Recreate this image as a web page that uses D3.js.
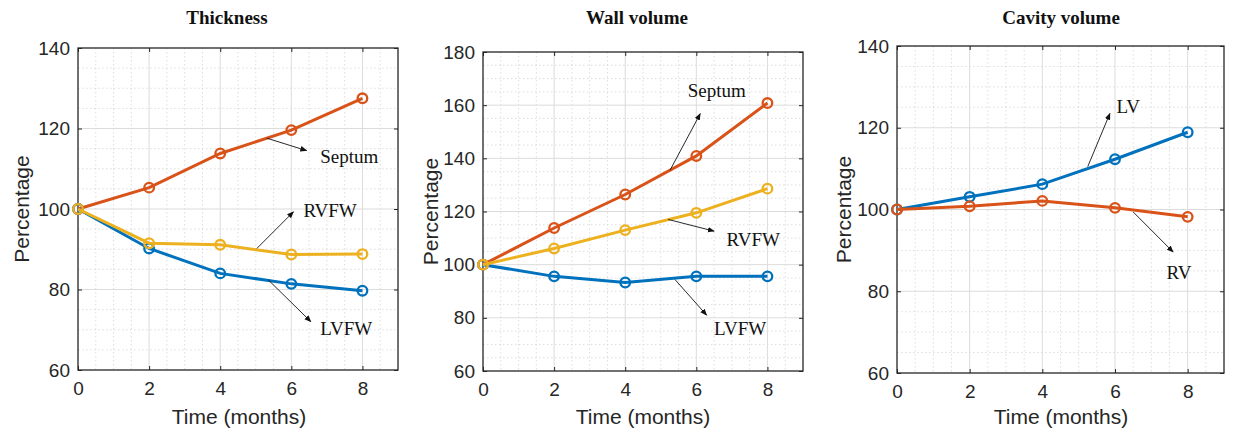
<!DOCTYPE html>
<html>
<head>
<meta charset="utf-8">
<script src="https://cdn.jsdelivr.net/npm/d3@7"></script>
<style>
  body { margin: 0; background: #fff; }
  svg { display: block; }
</style>
</head>
<body>
<div id="chart"></div>
<script>
// Data (percentage of baseline)
const months = [0, 2, 4, 6, 8];
const xTicks = [0, 2, 4, 6, 8];

const thickSeptum = [100, 105.3, 113.8, 119.6, 127.5];
const thickRVFW   = [100, 91.5, 91.1, 88.7, 88.8];
const thickLVFW   = [100, 90.2, 84.0, 81.4, 79.7];

const wallSeptum = [100, 113.8, 126.4, 140.9, 160.8];
const wallRVFW   = [100, 106.1, 113.0, 119.5, 128.6];
const wallLVFW   = [100, 95.6, 93.3, 95.6, 95.6];

const cavLV = [100, 103.1, 106.2, 112.3, 118.9];
const cavRV = [100, 100.8, 102.1, 100.4, 98.2];

const yTicksThick = [60, 80, 100, 120, 140];
const yTicksWall  = [60, 80, 100, 120, 140, 160, 180];
const yTicksCav   = [60, 80, 100, 120, 140];

// annotations in data units: [x0, y0, x1, y1, textX, textY, label]
const thickNotes = [
  [5.31, 117.6, 6.43, 114.5, 6.81, 113.2, "Septum"],
  [5.03, 90.2, 6.06, 99.3, 6.34, 99.6, "RVFW"],
  [5.35, 82.4, 6.55, 72.0, 6.81, 70.4, "LVFW"]
];
const wallNotes = [
  [5.26, 135.5, 6.11, 156.8, 5.76, 165.6, "Septum"],
  [5.21, 117.0, 6.5, 112.6, 6.85, 109.5, "RVFW"],
  [5.4, 94.4, 6.29, 81.0, 6.5, 76.0, "LVFW"]
];
const cavNotes = [
  [5.25, 110.5, 5.86, 123.5, 6.04, 125.3, "LV"],
  [6.5, 99.4, 7.6, 89.6, 7.42, 84.7, "RV"]
];

const BLUE = "#0072BD", RED = "#D95319", YELLOW = "#EDB120";
const AXIS = "#262626";

const svg = d3.select("#chart").append("svg")
  .attr("width", 1233).attr("height", 433);

svg.append("defs").append("marker")
  .attr("id", "arrow")
  .attr("viewBox", "0 0 10 10")
  .attr("refX", 9).attr("refY", 5)
  .attr("markerWidth", 7).attr("markerHeight", 7)
  .attr("markerUnits", "userSpaceOnUse")
  .attr("orient", "auto")
  .append("path")
  .attr("d", "M0,1 L10,5 L0,9 Z")
  .attr("fill", "#111");

function drawPanel(p) {
  const g = svg.append("g");
  const x = d3.scaleLinear().domain([0, 9]).range([p.left, p.right]);
  const y = d3.scaleLinear().domain(p.yDomain).range([p.bottom, p.top]);

  // minor grid (dotted)
  const xMinor = d3.range(0.5, 9, 0.5).filter(v => v % 2 !== 0);
  const yMinor = d3.range(p.yDomain[0] + 5, p.yDomain[1], 5).filter(v => v % 20 !== 0);
  g.selectAll(".mx").data(xMinor).join("line")
    .attr("x1", d => x(d)).attr("x2", d => x(d))
    .attr("y1", p.top).attr("y2", p.bottom)
    .attr("stroke", "#d4d4d4").attr("stroke-width", 0.8)
    .attr("stroke-dasharray", "1.5,2.5");
  g.selectAll(".my").data(yMinor).join("line")
    .attr("x1", p.left).attr("x2", p.right)
    .attr("y1", d => y(d)).attr("y2", d => y(d))
    .attr("stroke", "#d4d4d4").attr("stroke-width", 0.8)
    .attr("stroke-dasharray", "1.5,2.5");

  // major grid
  g.selectAll(".gx").data(xTicks.slice(1)).join("line")
    .attr("x1", d => x(d)).attr("x2", d => x(d))
    .attr("y1", p.top).attr("y2", p.bottom)
    .attr("stroke", "#dcdcdc").attr("stroke-width", 1);
  g.selectAll(".gy").data(p.yTicks.slice(1, -1)).join("line")
    .attr("x1", p.left).attr("x2", p.right)
    .attr("y1", d => y(d)).attr("y2", d => y(d))
    .attr("stroke", "#dcdcdc").attr("stroke-width", 1);

  // axes (inward ticks, box on)
  const fmt = d3.format("d");
  const styleAxis = sel => {
    sel.select(".domain").remove();
    sel.selectAll("line").attr("stroke", AXIS);
    sel.selectAll("text")
      .attr("fill", AXIS)
      .style("font-family", "Liberation Sans, Arial, sans-serif")
      .style("font-size", "19px");
  };
  g.append("g").attr("transform", `translate(0,${p.bottom})`)
    .call(d3.axisBottom(x).tickValues(xTicks).tickFormat(fmt).tickSizeInner(-4).tickSizeOuter(0).tickPadding(12))
    .call(styleAxis);
  g.append("g").attr("transform", `translate(0,${p.top})`)
    .call(d3.axisTop(x).tickValues(xTicks).tickFormat("").tickSizeInner(-4).tickSizeOuter(0))
    .call(styleAxis);
  g.append("g").attr("transform", `translate(${p.left},0)`)
    .call(d3.axisLeft(y).tickValues(p.yTicks).tickFormat(fmt).tickSizeInner(-4).tickSizeOuter(0).tickPadding(8))
    .call(styleAxis);
  g.append("g").attr("transform", `translate(${p.right},0)`)
    .call(d3.axisRight(y).tickValues(p.yTicks).tickFormat("").tickSizeInner(-4).tickSizeOuter(0))
    .call(styleAxis);

  g.append("rect")
    .attr("x", p.left).attr("y", p.top)
    .attr("width", p.right - p.left).attr("height", p.bottom - p.top)
    .attr("fill", "none").attr("stroke", AXIS).attr("stroke-width", 1.3);

  // series
  const line = d3.line().x((d, i) => x(months[i])).y(d => y(d));
  p.series.forEach(s => {
    g.append("path").datum(s.values)
      .attr("d", line)
      .attr("fill", "none")
      .attr("stroke", s.color)
      .attr("stroke-width", 3);
    g.selectAll(null).data(s.values).join("circle")
      .attr("cx", (d, i) => x(months[i]))
      .attr("cy", d => y(d))
      .attr("r", 4.8)
      .attr("fill", "none")
      .attr("stroke", s.color)
      .attr("stroke-width", 2.3);
  });

  // annotations
  p.notes.forEach(n => {
    g.append("line")
      .attr("x1", x(n[0])).attr("y1", y(n[1]))
      .attr("x2", x(n[2])).attr("y2", y(n[3]))
      .attr("stroke", "#111").attr("stroke-width", 0.9)
      .attr("marker-end", "url(#arrow)");
    g.append("text")
      .attr("x", x(n[4])).attr("y", y(n[5]))
      .attr("dy", "0.35em")
      .style("font-family", "Liberation Serif, Times New Roman, serif")
      .style("font-size", "19px")
      .attr("fill", "#111")
      .text(n[6]);
  });

  // title and labels
  g.append("text")
    .attr("x", p.titleX).attr("y", 17).attr("dy", "0.35em")
    .attr("text-anchor", "middle")
    .style("font-family", "Liberation Serif, Times New Roman, serif")
    .style("font-weight", "bold")
    .style("font-size", "19px")
    .attr("fill", "#111")
    .text(p.title);

  g.append("text")
    .attr("x", p.xLabelX).attr("y", 417).attr("dy", "0.35em")
    .attr("text-anchor", "middle")
    .style("font-family", "Liberation Sans, Arial, sans-serif")
    .style("font-size", "21px")
    .attr("fill", AXIS)
    .text("Time (months)");

  g.append("text")
    .attr("transform", `translate(${p.yLabelX},${(p.top + p.bottom) / 2}) rotate(-90)`)
    .attr("dy", "0.35em")
    .attr("text-anchor", "middle")
    .style("font-family", "Liberation Sans, Arial, sans-serif")
    .style("font-size", "21px")
    .attr("fill", AXIS)
    .text("Percentage");
}

drawPanel({
  left: 78, right: 398, top: 48, bottom: 370,
  yDomain: [60, 140], yTicks: yTicksThick,
  series: [
    { values: thickSeptum, color: RED },
    { values: thickLVFW, color: BLUE },
    { values: thickRVFW, color: YELLOW }
  ],
  notes: thickNotes,
  title: "Thickness", titleX: 227, xLabelX: 239, yLabelX: 22
});

drawPanel({
  left: 483, right: 803, top: 52, bottom: 371,
  yDomain: [60, 180], yTicks: yTicksWall,
  series: [
    { values: wallLVFW, color: BLUE },
    { values: wallSeptum, color: RED },
    { values: wallRVFW, color: YELLOW }
  ],
  notes: wallNotes,
  title: "Wall volume", titleX: 637, xLabelX: 643, yLabelX: 431
});

drawPanel({
  left: 897, right: 1224, top: 46, bottom: 373,
  yDomain: [60, 140], yTicks: yTicksCav,
  series: [
    { values: cavLV, color: BLUE },
    { values: cavRV, color: RED }
  ],
  notes: cavNotes,
  title: "Cavity volume", titleX: 1061, xLabelX: 1061, yLabelX: 844
});
</script>
</body>
</html>
